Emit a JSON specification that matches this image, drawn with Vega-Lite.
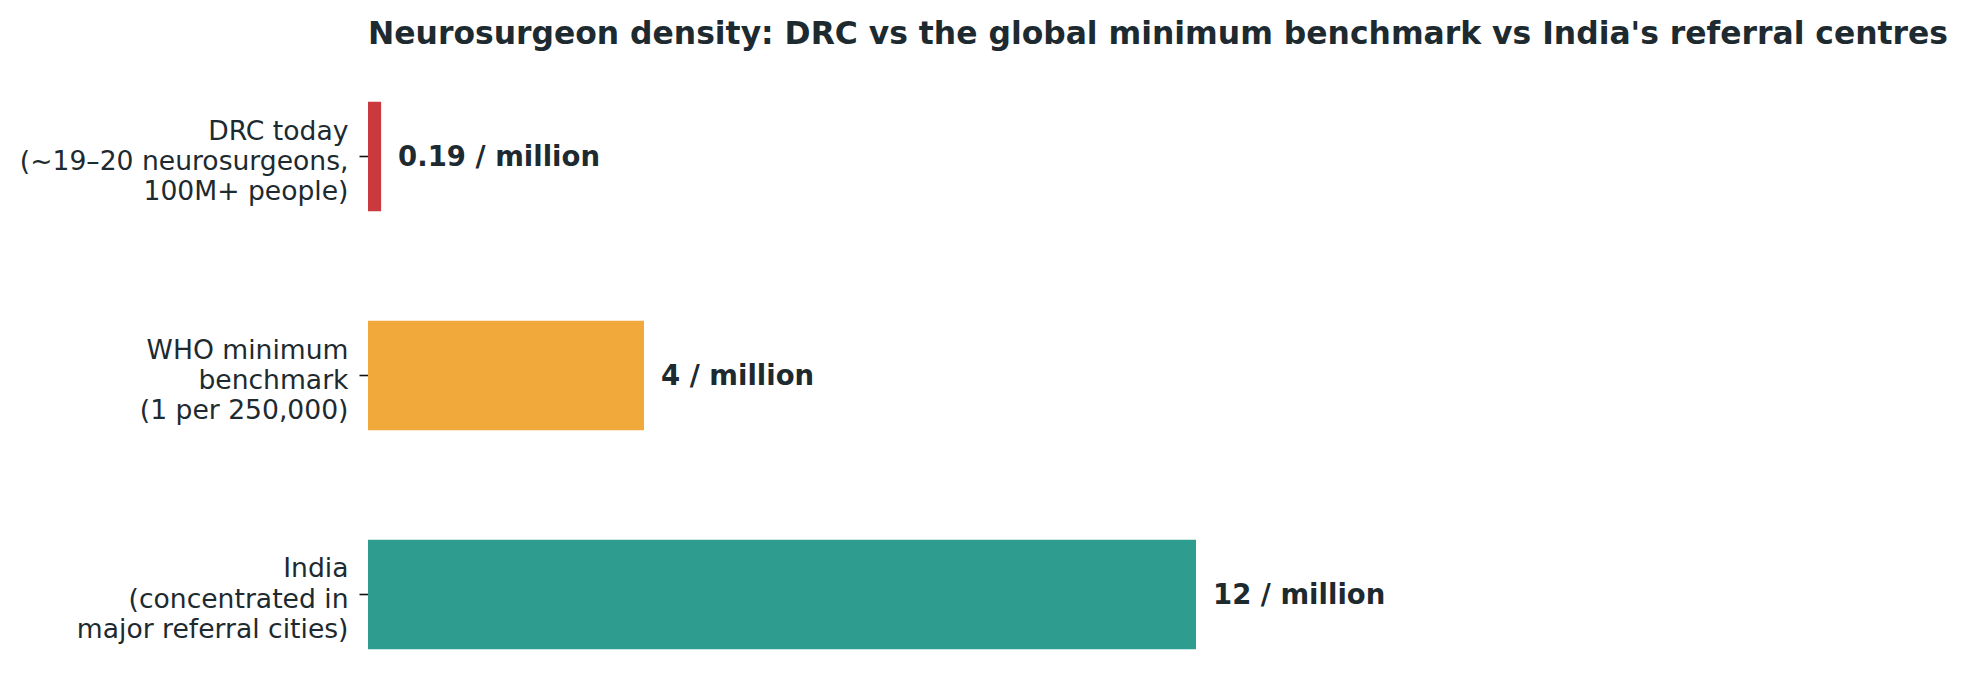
{
  "$schema": "https://vega.github.io/schema/vega-lite/v6.json",
  "autosize": {"type": "none"},
  "width": 1380,
  "height": 635,
  "padding": {"left": 368, "top": 58, "right": 219, "bottom": 5},
  "background": "white",
  "title": {
    "text": "Neurosurgeon density: DRC vs the global minimum benchmark vs India's referral centres",
    "anchor": "start",
    "frame": "group",
    "font": "DejaVu Sans",
    "fontWeight": "bold",
    "fontSize": 31.4,
    "color": "#1d2a30",
    "offset": 8
  },
  "data": {
    "values": [
      {"group": "DRC today|(~19–20 neurosurgeons,|100M+ people)", "density": 0.19, "label": "0.19 / million", "key": "DRC"},
      {"group": "WHO minimum|benchmark|(1 per 250,000)", "density": 4, "label": "4 / million", "key": "WHO"},
      {"group": "India|(concentrated in|major referral cities)", "density": 12, "label": "12 / million", "key": "India"}
    ]
  },
  "config": {"view": {"stroke": null}},
  "encoding": {
    "y": {
      "field": "group",
      "type": "nominal",
      "sort": null,
      "scale": {"paddingInner": 0.5, "paddingOuter": 0.2},
      "axis": {
        "title": null,
        "domain": false,
        "ticks": true,
        "tickSize": 9,
        "tickWidth": 1.6,
        "tickColor": "#111111",
        "labelPadding": 11,
        "labelFont": "DejaVu Sans",
        "labelFontSize": 26.6,
        "labelColor": "#1d2a30",
        "labelLineHeight": 30.3,
        "labelOffset": -25,
        "labelLimit": 500,
        "labelExpr": "split(datum.label, '|')"
      }
    },
    "x": {
      "field": "density",
      "type": "quantitative",
      "scale": {"domain": [0, 20], "nice": false},
      "axis": null
    }
  },
  "layer": [
    {
      "mark": {"type": "bar"},
      "encoding": {
        "color": {
          "field": "key",
          "type": "nominal",
          "scale": {"domain": ["DRC", "WHO", "India"], "range": ["#c9393d", "#f1a93c", "#2e9c8f"]},
          "legend": null
        }
      }
    },
    {
      "mark": {"type": "text", "align": "left", "baseline": "middle", "dx": 17, "dy": 1.5, "font": "DejaVu Sans", "fontWeight": "bold", "fontSize": 27.5, "color": "#1d2a30"},
      "encoding": {"text": {"field": "label"}}
    }
  ]
}
